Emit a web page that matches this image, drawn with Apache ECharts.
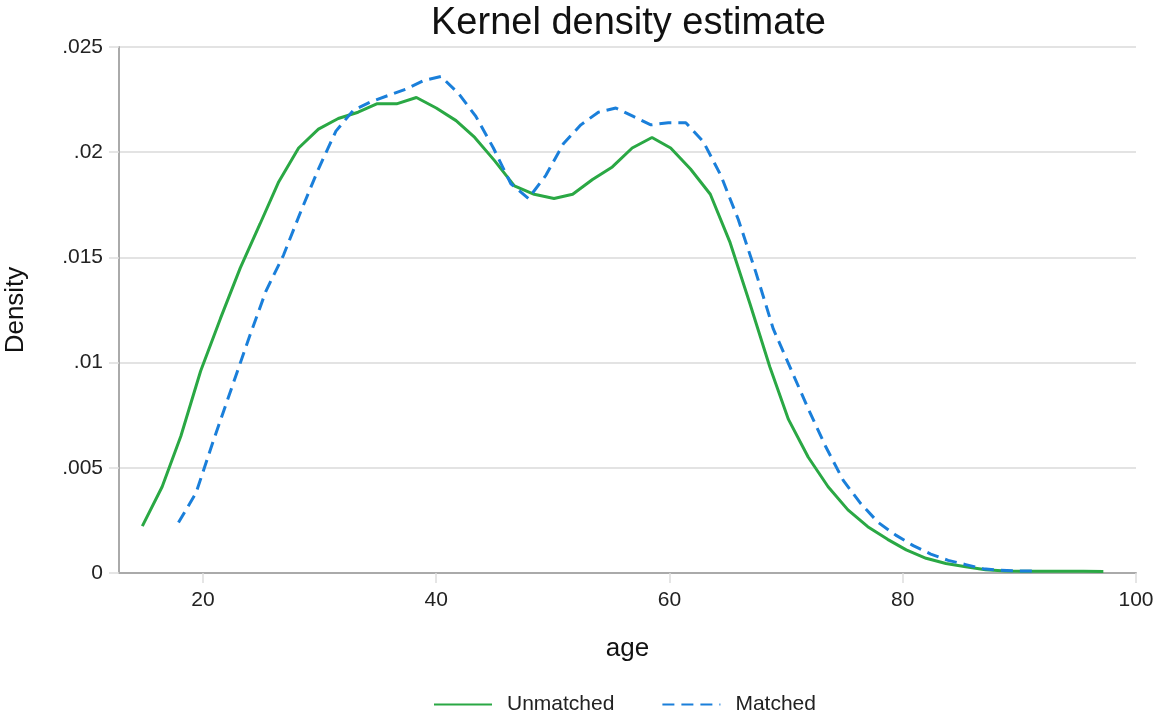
<!doctype html>
<html lang="en">
    <head>
        <meta charset="UTF-8">
        <title>Kernel density estimate</title>
        <style>
            html, body { margin: 0; padding: 0; background: #fff; }
        </style>
    </head>
    <body>
        <div id="main" style="width: 1155px;height:715px;"></div>
        <script src="https://cdn.jsdelivr.net/npm/echarts@6/dist/echarts.min.js"></script>
        <script type="text/javascript">
            // age grid and density values
            var ageUnmatched = [14.8, 16.5, 18.1, 19.8, 21.5, 23.2, 24.9, 26.5, 28.2, 29.9,
                                31.6, 33.3, 34.9, 36.6, 38.3, 40.0, 41.7, 43.3, 45.0, 46.7,
                                48.4, 50.1, 51.7, 53.4, 55.1, 56.8, 58.5, 60.1, 61.8, 63.5,
                                65.2, 66.9, 68.6, 70.2, 71.9, 73.6, 75.3, 77.0, 78.7, 80.3,
                                82.0, 83.7, 85.4, 87.1, 88.8, 90.4, 92.1, 93.8, 95.5, 97.2];
            var densUnmatched = [.00223, .0041, .0065, .0096, .0121, .0145, .0166, .0186, .0202, .0211,
                                 .0216, .0219, .0223, .0223, .0226, .0221, .0215, .0207, .0196, .0184,
                                 .0180, .0178, .0180, .0187, .0193, .0202, .0207, .0202, .0192, .0180,
                                 .0157, .0128, .0098, .0073, .0055, .0041, .0030, .0022, .0016, .0011,
                                 .0007, .00045, .0003, .00015, .0001, .00008, .00008, .00008, .00008, .00007];

            var ageMatched = [17.9, 19.4, 20.9, 22.4, 23.9, 25.4, 26.9, 28.4, 29.9, 31.4,
                              32.9, 34.4, 35.9, 37.4, 38.9, 40.4, 41.9, 43.4, 44.9, 46.4,
                              47.9, 49.4, 50.9, 52.4, 53.9, 55.4, 56.9, 58.4, 59.9, 61.4,
                              62.9, 64.4, 65.9, 67.4, 68.9, 70.4, 71.9, 73.4, 74.9, 76.4,
                              77.9, 79.4, 80.9, 82.4, 83.9, 85.4, 86.9, 88.4, 89.9, 91.4];
            var densMatched = [.0024, .0038, .0063, .0087, .0111, .0134, .0151, .0172, .0192, .0210,
                               .0220, .0224, .0227, .0230, .0234, .0236, .0228, .0217, .0202, .0185,
                               .0178, .0189, .0204, .0213, .0219, .0221, .0217, .0213, .0214, .0214,
                               .0205, .0189, .0168, .0143, .0116, .0097, .0078, .0060, .0044, .0033,
                               .0024, .0018, .0013, .0009, .0006, .0004, .0002, .00013, .0001, .0001];

            var xTicks = [20, 40, 60, 80, 100];

            function pairs(xs, ys) {
                var out = [];
                for (var i = 0; i < xs.length; i++) {
                    out.push([xs[i], ys[i]]);
                }
                return out;
            }

            var myChart = echarts.init(document.getElementById('main'));

            var font = 'Liberation Sans, Arial, Helvetica, sans-serif';

            var option = {
                animation: false,
                textStyle: { fontFamily: font },
                title: {
                    text: 'Kernel density estimate',
                    left: 426,
                    top: 0,
                    textStyle: { fontSize: 38, fontWeight: 'normal', color: '#111', fontFamily: font }
                },
                legend: {
                    top: 694,
                    left: 433,
                    padding: 0,
                    itemWidth: 58,
                    itemHeight: 14,
                    itemGap: 47,
                    itemStyle: { opacity: 0 },
                    textStyle: { fontSize: 21, color: '#222', fontFamily: font, padding: [0, 0, 0, 10] },
                    data: ['Unmatched', 'Matched']
                },
                grid: {
                    left: 119,
                    right: 19,
                    top: 47,
                    bottom: 142,
                    outerBoundsMode: 'none',
                    containLabel: false
                },
                xAxis: {
                    type: 'value',
                    min: 12.8,
                    max: 100,
                    name: 'age',
                    nameLocation: 'middle',
                    nameGap: 63,
                    nameTextStyle: { fontSize: 26, color: '#111', fontFamily: font },
                    axisLine: { lineStyle: { color: '#aaa', width: 2 } },
                    axisTick: { show: true, length: 10, customValues: xTicks, lineStyle: { color: '#ddd', width: 1.5 } },
                    axisLabel: { customValues: xTicks, fontSize: 21, color: '#222', margin: 17, fontFamily: font },
                    splitLine: { show: false }
                },
                yAxis: {
                    type: 'value',
                    min: 0,
                    max: 0.025,
                    interval: 0.005,
                    name: 'Density',
                    nameLocation: 'middle',
                    nameGap: 90,
                    nameTextStyle: { fontSize: 26, color: '#111', fontFamily: font },
                    axisLine: { show: true, lineStyle: { color: '#aaa', width: 2 } },
                    axisTick: { show: true, length: 10, lineStyle: { color: '#ddd', width: 1.5 } },
                    axisLabel: {
                        fontSize: 21,
                        color: '#222',
                        margin: 16,
                        fontFamily: font,
                        formatter: function (v) {
                            if (v === 0) return '0';
                            return String(+v.toFixed(3)).replace(/^0/, '');
                        }
                    },
                    splitLine: { show: true, lineStyle: { color: '#e3e3e3', width: 2 } }
                },
                series: [
                    {
                        name: 'Unmatched',
                        type: 'line',
                        symbol: 'none',
                        showSymbol: false,
                        itemStyle: { color: '#2aa844' },
                        lineStyle: { color: '#2aa844', width: 3 },
                        data: pairs(ageUnmatched, densUnmatched)
                    },
                    {
                        name: 'Matched',
                        type: 'line',
                        symbol: 'none',
                        showSymbol: false,
                        itemStyle: { color: '#1a7fda' },
                        lineStyle: { color: '#1a7fda', width: 3, type: [12, 7] },
                        data: pairs(ageMatched, densMatched)
                    }
                ]
            };

            myChart.setOption(option);
        </script>
    </body>
</html>
